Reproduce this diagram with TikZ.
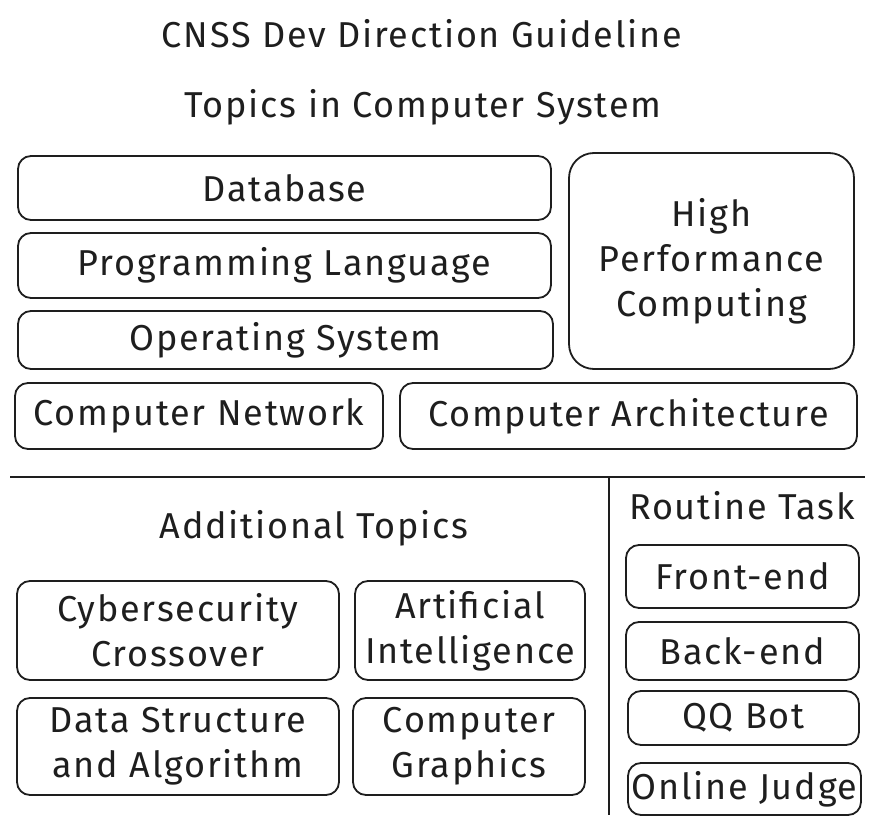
\documentclass[tikz,border=0pt]{standalone}
\usepackage{fontspec}
\setmainfont{Fira Sans}[LetterSpace=5]
\definecolor{ink}{HTML}{1E1E1E}
\begin{document}
\begin{tikzpicture}[x=1pt,y=-1pt,
  every node/.style={font=\fontsize{36}{45}\selectfont, text=ink},
  box/.style={draw=ink, line width=1.8pt, rounded corners=13pt, align=center, inner sep=0pt},
  label/.style={inner sep=0pt},
  rule/.style={draw=ink, line width=2pt}]
\useasboundingbox (0,0) rectangle (875,826);
% titles
\node[label] (title) at (422,34) {CNSS Dev Direction Guideline};
\node[label] (topics) at (423,107) {Topics in Computer System};
% computer system boxes
\node[box, minimum width=533pt, minimum height=64pt] (db) at (284.5,188) {Database};
\node[box, minimum width=533pt, minimum height=65pt] (pl) at (284.5,265.5) {Programming Language};
\node[box, minimum width=535pt, minimum height=58pt] (os) at (285.5,340) {Operating System};
\node[box, rounded corners=25pt, minimum width=285pt, minimum height=216pt] (hpc) at (711.5,261) {High\\Performance\\Computing};
\node[box, minimum width=368pt, minimum height=66pt] (cn) at (199,416) {Computer Network};
\node[box, minimum width=457pt, minimum height=66pt] (ca) at (628.5,416) {Computer Architecture};
% separators
\coordinate (hl) at (10,477);
\coordinate (hr) at (865,477);
\coordinate (vt) at (609,477);
\coordinate (vb) at (609,815);
\draw[rule] (hl) -- (hr);
\draw[rule] (vt) -- (vb);
% additional topics
\node[label] (add) at (314,528) {Additional Topics};
\node[box, minimum width=322pt, minimum height=99pt] (cyb) at (178,630.5) {Cybersecurity\\Crossover};
\node[box, minimum width=230pt, minimum height=99pt] (ai) at (470,630.5) {Artificial\\Intelligence};
\node[box, minimum width=322pt, minimum height=97pt] (dsa) at (178,746.5) {Data Structure\\and Algorithm};
\node[box, minimum width=232pt, minimum height=97pt] (cg) at (469,746.5) {Computer\\Graphics};
% routine task
\node[label] (rt) at (742,506) {Routine Task};
\node[box, minimum width=233pt, minimum height=63pt] (fe) at (742.5,576.5) {Front-end};
\node[box, minimum width=233pt, minimum height=58pt] (be) at (742.5,651) {Back-end};
\node[box, minimum width=231pt, minimum height=54pt] (qq) at (743.5,718) {QQ Bot};
\node[box, minimum width=233pt, minimum height=52pt] (oj) at (744.5,789) {Online Judge};
\end{tikzpicture}
\end{document}
